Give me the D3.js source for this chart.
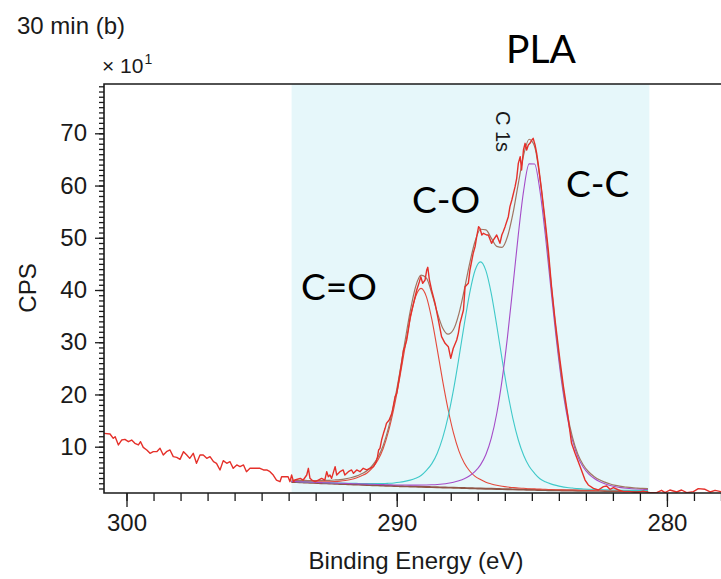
<!DOCTYPE html>
<html><head><meta charset="utf-8">
<script src="https://cdn.jsdelivr.net/npm/d3@7"></script>
<style>
html,body{margin:0;padding:0;background:#fff;}
svg{display:block;}
</style></head>
<body><svg id="chart" width="721" height="579"></svg>
<script>
// ---------- data ----------
const rawEnergy = [300.85,300.61,300.49,300.42,300.30,300.18,300.06,299.93,299.81,299.69,299.56,299.48,299.38,299.25,299.13,299.01,298.88,298.76,298.64,298.52,298.39,298.27,298.14,298.02,297.89,297.77,297.66,297.53,297.41,297.28,297.16,297.03,296.91,296.78,296.67,296.54,296.42,296.29,296.17,296.05,295.92,295.80,295.67,295.56,295.43,295.31,295.06,294.93,294.81,294.69,294.57,294.45,294.32,294.26,294.13,294.02,293.95,293.89,293.82,293.77,293.57,293.46,293.33,293.27,293.21,293.14,293.02,292.90,292.78,292.66,292.59,292.53,292.47,292.41,292.28,292.22,292.10,291.98,291.92,291.79,291.67,291.60,291.48,291.36,291.24,291.11,290.99,290.86,290.76,290.71,290.67,290.62,290.56,290.49,290.43,290.38,290.28,290.18,290.13,290.06,290.00,289.94,289.82,289.75,289.70,289.63,289.57,289.50,289.38,289.26,289.16,289.11,289.04,288.95,288.89,288.85,288.79,288.71,288.58,288.46,288.34,288.21,288.09,288.00,287.91,287.78,287.72,287.66,287.53,287.47,287.41,287.35,287.29,287.17,287.10,287.04,286.97,286.92,286.85,286.79,286.67,286.61,286.49,286.42,286.30,286.18,286.11,286.06,285.99,285.87,285.81,285.74,285.62,285.56,285.50,285.43,285.38,285.31,285.25,285.19,285.13,285.07,285.00,284.95,284.88,284.82,284.75,284.64,284.51,284.39,284.27,284.14,283.96,283.83,283.68,283.53,283.40,283.21,283.03,282.91,282.72,282.54,282.35,282.23,282.11,281.98,281.79,281.61,281.37,281.12,280.88,280.63,280.38,280.20,280.07,279.89,279.64,279.46,279.27,279.02,278.84,278.59,278.40,278.22,278.00];
const rawCps = [12.56,12.43,11.60,11.92,10.33,11.28,11.41,10.96,11.28,10.64,10.33,10.96,9.88,9.37,8.73,9.05,9.05,9.69,8.41,9.05,9.37,8.09,7.96,7.58,9.05,8.41,7.77,8.73,6.82,8.41,8.41,7.77,8.09,7.13,6.82,5.54,7.33,6.82,7.13,5.86,6.50,6.18,6.50,5.22,5.86,5.86,5.86,5.54,5.54,5.22,4.58,3.62,3.30,4.26,4.26,4.26,3.30,4.58,3.30,3.62,3.94,3.62,4.58,5.86,3.94,3.62,3.30,3.62,3.94,3.62,5.22,4.26,4.58,3.94,6.18,4.58,5.22,5.54,4.58,5.22,5.54,4.90,5.54,5.22,5.86,5.54,5.86,6.18,7.13,8.09,9.37,9.69,11.28,12.56,13.52,14.47,15.11,16.39,17.66,19.58,20.22,22.13,25.96,28.51,29.15,30.43,32.34,34.90,37.45,40.00,41.60,42.55,41.28,41.92,43.83,44.34,41.92,40.00,37.45,34.26,31.07,29.79,29.15,26.92,28.80,30.43,31.71,33.62,36.17,40.64,40.96,41.28,43.83,47.02,48.30,50.21,52.13,51.81,50.53,50.85,50.53,50.53,48.94,49.58,50.53,48.94,50.53,51.17,52.13,54.04,55.96,57.23,59.79,61.38,64.25,65.53,62.98,66.81,68.08,66.81,67.76,68.08,68.72,69.04,67.76,66.17,63.61,59.15,53.40,47.66,40.63,34.26,26.60,21.49,16.39,10.64,8.73,6.17,3.62,2.67,2.03,1.71,2.35,2.47,1.84,2.16,1.71,1.39,1.39,1.20,1.46,1.20,1.20,1.65,1.20,1.71,1.33,1.71,1.20,1.39,1.97,1.84,1.33,1.65,1.39];

const fitEnergy = [293.9,293.7,293.5,293.3,293.1,292.9,292.7,292.5,292.3,292.1,291.9,291.7,291.5,291.3,291.1,290.9,290.7,290.5,290.3,290.1,289.9,289.7,289.5,289.3,289.1,288.9,288.7,288.5,288.3,288.1,287.9,287.7,287.5,287.3,287.1,286.9,286.7,286.5,286.3,286.1,285.9,285.7,285.5,285.3,285.1,284.9,284.7,284.5,284.3,284.1,283.9,283.7,283.5,283.3,283.1,282.9,282.7,282.5,282.3,282.1,281.9,281.7,281.5,281.3,281.1,280.9,280.7];
const background = [3.25,3.21,3.16,3.12,3.07,3.03,2.99,2.95,2.91,2.87,2.83,2.79,2.75,2.71,2.67,2.63,2.59,2.55,2.51,2.47,2.44,2.41,2.38,2.35,2.32,2.29,2.26,2.23,2.20,2.17,2.14,2.11,2.08,2.05,2.02,1.99,1.96,1.94,1.91,1.88,1.85,1.83,1.80,1.78,1.75,1.73,1.70,1.68,1.66,1.64,1.62,1.61,1.60,1.58,1.57,1.56,1.55,1.54,1.53,1.52,1.52,1.51,1.51,1.50,1.50,1.50,1.50];
// component heights above the background
const peakCdO = [0.14,0.16,0.17,0.19,0.21,0.25,0.29,0.35,0.43,0.54,0.70,0.93,1.24,1.71,2.30,3.30,4.80,7.10,10.50,15.00,20.40,26.40,32.10,36.40,38.00,36.40,32.10,26.40,20.40,15.00,10.50,7.10,4.80,3.30,2.30,1.71,1.24,0.93,0.70,0.54,0.43,0.35,0.29,0.25,0.21,0.19,0.17,0.16,0.14,0.12,0.12,0.11,0.11,0.10,0.10,0.09,0.09,0.08,0.08,0.08,0.07,0.07,0.07,0.06,0.06,0.06,0.06];
const peakCO = [0.10,0.10,0.11,0.11,0.12,0.12,0.13,0.14,0.15,0.16,0.18,0.20,0.22,0.24,0.26,0.30,0.34,0.39,0.48,0.59,0.74,0.95,1.22,1.61,2.17,3.18,4.50,6.53,9.48,13.55,18.74,24.84,31.34,37.37,41.76,43.40,41.76,37.37,31.34,24.84,18.74,13.55,9.48,6.53,4.50,3.18,2.17,1.61,1.22,0.95,0.74,0.59,0.48,0.39,0.34,0.30,0.26,0.24,0.22,0.20,0.18,0.16,0.15,0.14,0.13,0.12,0.12];
const peakCC = [0.10,0.10,0.10,0.11,0.11,0.11,0.12,0.12,0.13,0.13,0.14,0.14,0.15,0.16,0.16,0.17,0.18,0.19,0.20,0.21,0.23,0.25,0.27,0.30,0.34,0.39,0.45,0.53,0.65,0.82,1.05,1.38,1.80,2.40,3.25,4.53,6.55,9.70,14.40,20.90,29.22,38.87,48.81,57.34,62.40,62.40,57.34,48.81,38.87,29.22,20.90,14.40,9.70,6.55,4.53,3.25,2.40,1.80,1.38,1.05,0.82,0.65,0.53,0.45,0.39,0.34,0.30];

const regionBounds = [293.89, 280.65];
const xMajorTicks = [300, 290, 280];
const yMajorTicks = [10, 20, 30, 40, 50, 60, 70];

// ---------- layout ----------
const plotL = 104, plotT = 84, plotB = 493, plotR = 721;
const svg = d3.select("#chart");
const x = d3.scaleLinear().domain([300.833, 277.0]).range([plotL, 748]);
const y = d3.scaleLinear().domain([1.135, 79.44]).range([plotB, plotT]);
const axisFont = "'Liberation Sans', Arial, Helvetica, sans-serif";
const labelFont = "Lato, 'Open Sans', sans-serif";

svg.append("defs").append("clipPath").attr("id", "clip")
  .append("rect").attr("x", plotL).attr("y", plotT)
  .attr("width", plotR - plotL).attr("height", plotB - plotT);

const plot = svg.append("g").attr("clip-path", "url(#clip)");

// region shading
plot.append("rect")
  .attr("x", x(regionBounds[0])).attr("y", plotT)
  .attr("width", x(regionBounds[1]) - x(regionBounds[0]))
  .attr("height", plotB - plotT)
  .attr("fill", "#e6f7fa");

const fit = fitEnergy.map((e, i) => ({
  e, bg: background[i], a: peakCdO[i], b: peakCO[i], c: peakCC[i]
}));

const lineOf = acc => d3.line().x(d => x(d.e)).y(d => y(acc(d))).curve(d3.curveMonotoneX);

// background
plot.append("path").datum(fit).attr("d", lineOf(d => d.bg))
  .attr("fill", "none").attr("stroke", "#8e5546").attr("stroke-width", 1.9);
// components
plot.append("path").datum(fit).attr("d", lineOf(d => d.bg + d.a))
  .attr("fill", "none").attr("stroke", "#e4493b").attr("stroke-width", 1.1);
plot.append("path").datum(fit).attr("d", lineOf(d => d.bg + d.b))
  .attr("fill", "none").attr("stroke", "#3fc9c9").attr("stroke-width", 1.1);
plot.append("path").datum(fit).attr("d", lineOf(d => d.bg + d.c))
  .attr("fill", "none").attr("stroke", "#a54cc8").attr("stroke-width", 1.1);
// envelope
plot.append("path").datum(fit).attr("d", lineOf(d => d.bg + d.a + d.b + d.c))
  .attr("fill", "none").attr("stroke", "#a07562").attr("stroke-width", 1.2);
// raw spectrum
const raw = rawEnergy.map((e, i) => ({ e, v: rawCps[i] }));
plot.append("path").datum(raw)
  .attr("d", d3.line().x(d => x(d.e)).y(d => y(d.v)))
  .attr("fill", "none").attr("stroke", "#e5302a").attr("stroke-width", 1.4)
  .attr("stroke-linejoin", "round");

// ---------- axes ----------
function styleAxis(g) {
  g.select(".domain").remove();
  g.selectAll(".tick line").attr("stroke", "#1a1a1a").attr("stroke-width", 1.3);
  g.selectAll(".tick text").attr("fill", "#1a1a1a")
    .style("font-family", axisFont).style("font-size", "24px");
}
const xMinor = d3.range(278, 301);
svg.append("g").attr("transform", `translate(0,${plotB})`)
  .call(d3.axisBottom(x).tickValues(xMinor).tickSize(8).tickFormat(""))
  .call(styleAxis);
svg.append("g").attr("transform", `translate(0,${plotB})`)
  .call(d3.axisBottom(x).tickValues(xMajorTicks).tickSize(14).tickPadding(7).tickFormat(d3.format("d")))
  .call(styleAxis);

const yMinor = d3.range(2, 80);
svg.append("g").attr("transform", `translate(${plotL},0)`)
  .call(d3.axisLeft(y).tickValues(yMinor).tickSize(5).tickFormat(""))
  .call(styleAxis);
svg.append("g").attr("transform", `translate(${plotL},0)`)
  .call(d3.axisLeft(y).tickValues(yMajorTicks).tickSize(9).tickPadding(8).tickFormat(d3.format("d")))
  .call(styleAxis);

// frame
svg.append("path")
  .attr("d", `M${plotR},${plotT}H${plotL}V${plotB}H${plotR}`)
  .attr("fill", "none").attr("stroke", "#1a1a1a").attr("stroke-width", 1.6);

// ---------- texts ----------
svg.append("text").attr("x", 17).attr("y", 34).text("30 min (b)")
  .style("font-family", axisFont).style("font-size", "24px").attr("fill", "#1a1a1a");

const mult = svg.append("text").attr("x", 102).attr("y", 73)
  .style("font-family", axisFont).style("font-size", "21px").attr("fill", "#1a1a1a");
mult.append("tspan").text("\u00d7 10");
mult.append("tspan").attr("dy", -9).attr("dx", 1).style("font-size", "14px").text("1");

svg.append("text").attr("transform", "translate(36,288) rotate(-90)")
  .attr("text-anchor", "middle").text("CPS")
  .style("font-family", axisFont).style("font-size", "24px").attr("fill", "#1a1a1a");

svg.append("text").attr("x", 416).attr("y", 569).attr("text-anchor", "middle")
  .text("Binding Energy (eV)")
  .style("font-family", axisFont).style("font-size", "24px").attr("fill", "#1a1a1a");

svg.append("text").attr("transform", "translate(496,111) rotate(90)")
  .text("C 1s")
  .style("font-family", axisFont).style("font-size", "20px").attr("fill", "#1a1a1a");

const bigLabels = [
  { t: "PLA", x: 506, y: 63, s: 39 },
  { t: "C=O", x: 301, y: 300, s: 37 },
  { t: "C-O", x: 412, y: 213, s: 37 },
  { t: "C-C", x: 566, y: 197, s: 37 }
];
svg.selectAll("text.big").data(bigLabels).enter().append("text")
  .attr("class", "big").attr("x", d => d.x).attr("y", d => d.y)
  .text(d => d.t).style("font-family", labelFont)
  .style("font-size", d => d.s + "px").attr("fill", "#000");
</script>
</body></html>
